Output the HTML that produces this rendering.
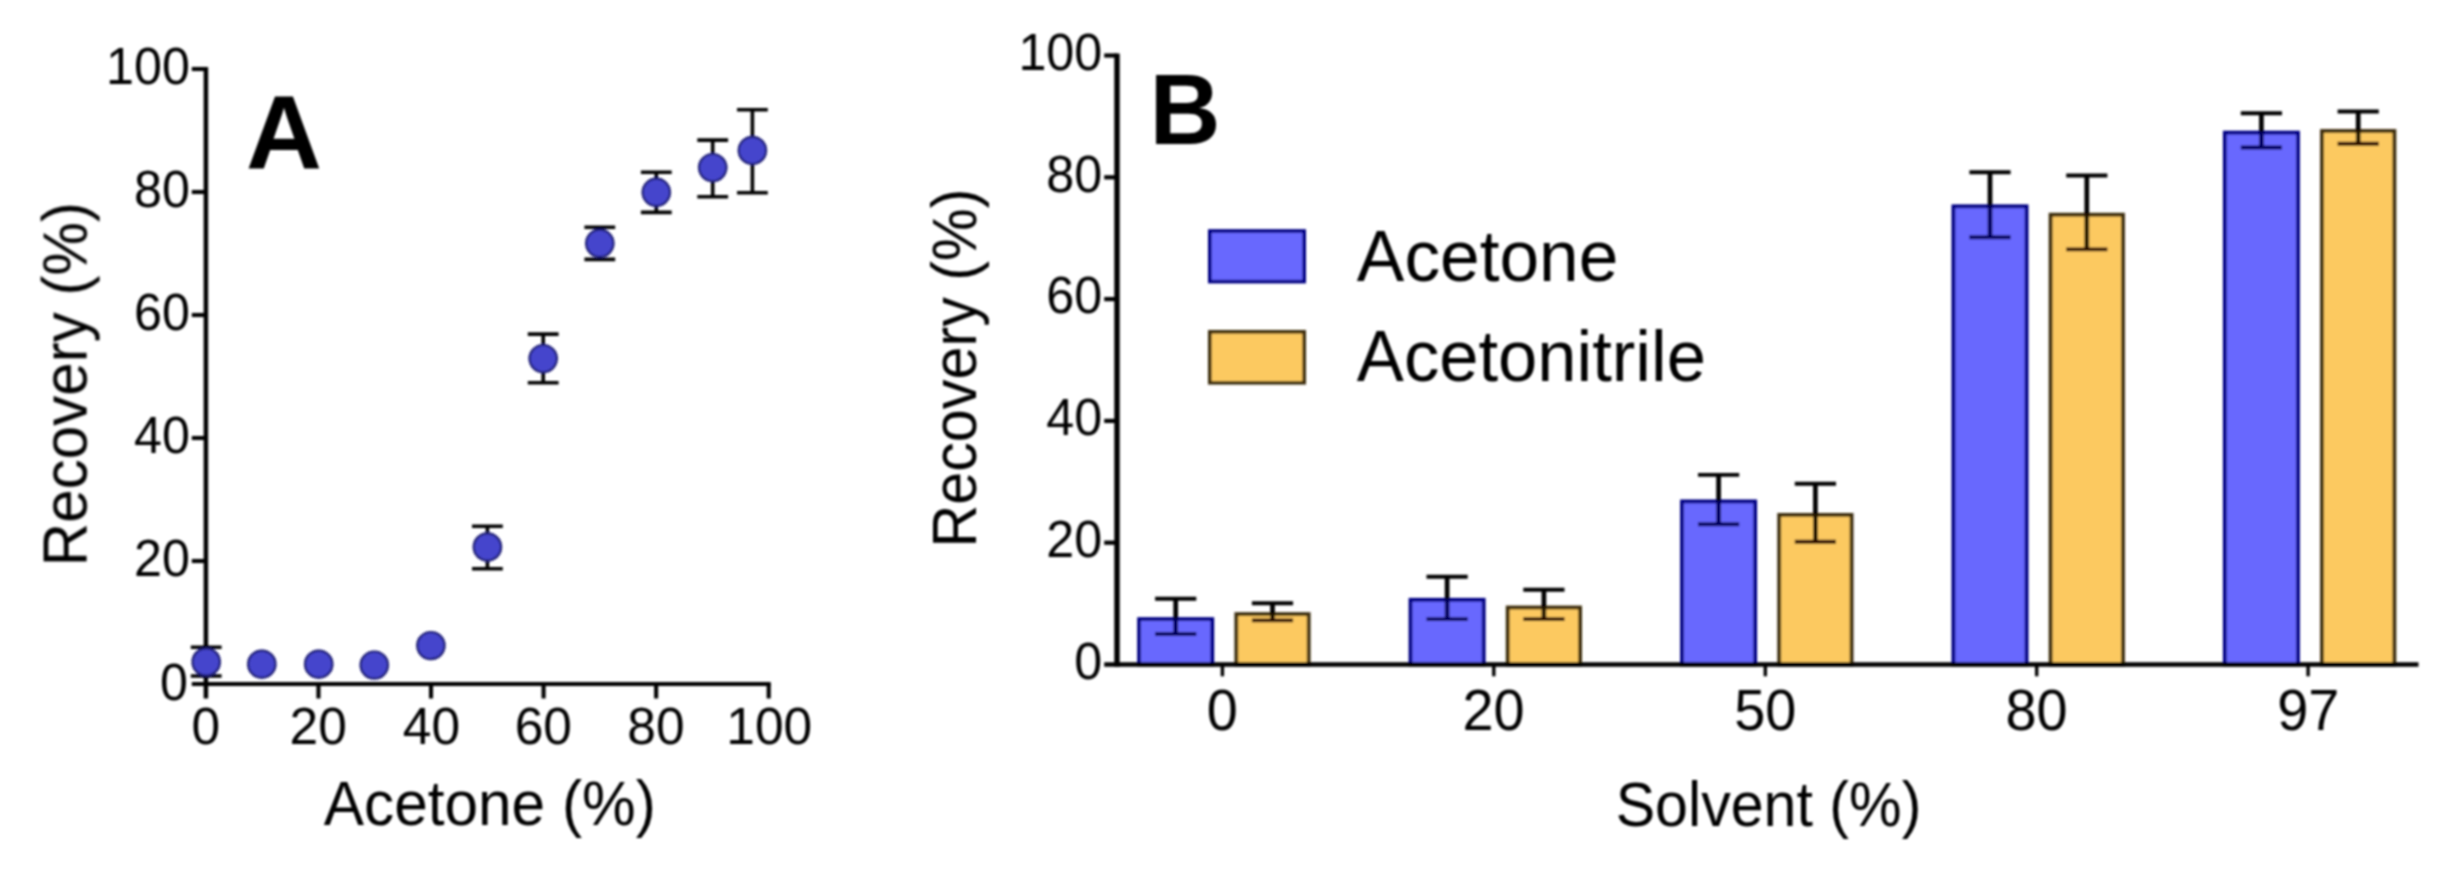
<!DOCTYPE html>
<html lang="en">
<head>
<meta charset="utf-8">
<title>Recovery vs solvent</title>
<style>
html,body{margin:0;padding:0;background:#fff;}
body{width:2452px;height:876px;overflow:hidden;}
svg{display:block;font-family:"Liberation Sans", Arial, Helvetica, sans-serif;font-kerning:none;}
text{fill:#000;}
</style>
</head>
<body>
<svg width="2452" height="876" viewBox="0 0 2452 876">
<defs><filter id="soft" x="0" y="0" width="2452" height="876" filterUnits="userSpaceOnUse"><feGaussianBlur stdDeviation="0.8"/></filter></defs>
<rect x="0" y="0" width="2452" height="876" fill="#fff"/>
<g filter="url(#soft)">
<line x1="205.9" y1="66.95" x2="205.9" y2="698.5" stroke="#000" stroke-width="4.5"/>
<line x1="191.8" y1="684.0" x2="770.75" y2="684.0" stroke="#000" stroke-width="4.1"/>
<g stroke="#000" stroke-width="4.1">
<line x1="191.8" y1="561.00" x2="205.9" y2="561.00"/>
<line x1="318.46" y1="684.0" x2="318.46" y2="698.5"/>
<line x1="191.8" y1="438.00" x2="205.9" y2="438.00"/>
<line x1="431.02" y1="684.0" x2="431.02" y2="698.5"/>
<line x1="191.8" y1="315.00" x2="205.9" y2="315.00"/>
<line x1="543.58" y1="684.0" x2="543.58" y2="698.5"/>
<line x1="191.8" y1="192.00" x2="205.9" y2="192.00"/>
<line x1="656.14" y1="684.0" x2="656.14" y2="698.5"/>
<line x1="191.8" y1="69.00" x2="205.9" y2="69.00"/>
<line x1="768.70" y1="684.0" x2="768.70" y2="698.5"/>
</g>
<text transform="translate(159.98 700.20) scale(0.9850 1)" font-size="51">0</text>
<text transform="translate(134.05 576.00) scale(0.9850 1)" font-size="51">20</text>
<text transform="translate(134.05 453.00) scale(0.9850 1)" font-size="51">40</text>
<text transform="translate(134.05 330.00) scale(0.9850 1)" font-size="51">60</text>
<text transform="translate(134.05 207.00) scale(0.9850 1)" font-size="51">80</text>
<text transform="translate(106.12 84.00) scale(0.9850 1)" font-size="51">100</text>
<text transform="translate(191.58 744.00) scale(1.0100 1)" font-size="51">0</text>
<text transform="translate(289.51 744.00) scale(1.0100 1)" font-size="51">20</text>
<text transform="translate(402.79 744.00) scale(1.0100 1)" font-size="51">40</text>
<text transform="translate(514.63 744.00) scale(1.0100 1)" font-size="51">60</text>
<text transform="translate(627.35 744.00) scale(1.0100 1)" font-size="51">80</text>
<text transform="translate(726.26 744.00) scale(1.0100 1)" font-size="51">100</text>
<text transform="translate(323.78 824.60) scale(0.9579 1)" font-size="63">Acetone (%)</text>
<text transform="translate(86.60 566.33) rotate(-90) scale(0.9550 1)" font-size="63">Recovery (%)</text>
<text transform="translate(246.06 168.40) scale(1.0216 1)" font-size="103" font-weight="bold">A</text>
<g stroke="#000" stroke-width="3.6" fill="none">
<path d="M190.8 647.2H221.6M190.8 676.0H221.6M206.2 647.2V676.0"/>
<path d="M472.0 526.2H502.8M472.0 568.8H502.8M487.4 526.2V568.8"/>
<path d="M527.8 334.1H558.6M527.8 382.7H558.6M543.2 334.1V382.7"/>
<path d="M584.4 227.2H615.2M584.4 259.4H615.2M599.8 227.2V259.4"/>
<path d="M640.9 172.3H671.7M640.9 212.4H671.7M656.3 172.3V212.4"/>
<path d="M697.3 140.1H728.1M697.3 196.8H728.1M712.7 140.1V196.8"/>
<path d="M737.0 109.8H767.8M737.0 192.8H767.8M752.4 109.8V192.8"/>
</g>
<g fill="#4545cc" stroke="#1b1b72" stroke-width="2.2">
<ellipse cx="206.2" cy="662.0" rx="13.7" ry="13.6"/>
<ellipse cx="261.8" cy="664.2" rx="13.7" ry="13.6"/>
<ellipse cx="318.7" cy="664.2" rx="13.7" ry="13.6"/>
<ellipse cx="374.3" cy="665.1" rx="13.7" ry="13.6"/>
<ellipse cx="430.9" cy="645.6" rx="13.7" ry="13.6"/>
<ellipse cx="487.4" cy="547.0" rx="13.7" ry="13.6"/>
<ellipse cx="543.2" cy="358.6" rx="13.7" ry="13.6"/>
<ellipse cx="599.8" cy="243.3" rx="13.7" ry="13.6"/>
<ellipse cx="656.3" cy="192.3" rx="13.7" ry="13.6"/>
<ellipse cx="712.7" cy="167.6" rx="13.7" ry="13.6"/>
<ellipse cx="752.4" cy="150.4" rx="13.7" ry="13.6"/>
</g>
<line x1="1117.0" y1="53.40" x2="1117.0" y2="666.80" stroke="#000" stroke-width="5.4"/>
<g stroke="#000" stroke-width="4.2">
<line x1="1104.2" y1="542.70" x2="1117.0" y2="542.70"/>
<line x1="1104.2" y1="420.90" x2="1117.0" y2="420.90"/>
<line x1="1104.2" y1="299.10" x2="1117.0" y2="299.10"/>
<line x1="1104.2" y1="177.30" x2="1117.0" y2="177.30"/>
<line x1="1104.2" y1="55.50" x2="1117.0" y2="55.50"/>
</g>
<text transform="translate(1074.28 678.80) scale(0.9850 1)" font-size="51">0</text>
<text transform="translate(1046.35 557.00) scale(0.9850 1)" font-size="51">20</text>
<text transform="translate(1046.35 435.20) scale(0.9850 1)" font-size="51">40</text>
<text transform="translate(1046.35 313.40) scale(0.9850 1)" font-size="51">60</text>
<text transform="translate(1046.35 191.60) scale(0.9850 1)" font-size="51">80</text>
<text transform="translate(1018.42 69.80) scale(0.9850 1)" font-size="51">100</text>
<rect x="1139.1" y="619.1" width="73.2" height="45.4" fill="#6767fe" stroke="#060684" stroke-width="3.8"/>
<rect x="1236.3" y="614.1" width="72.4" height="50.4" fill="#fcc961" stroke="#3e2d10" stroke-width="3.8"/>
<rect x="1410.5" y="599.8" width="73.2" height="64.7" fill="#6767fe" stroke="#060684" stroke-width="3.8"/>
<rect x="1507.7" y="607.5" width="72.4" height="57.0" fill="#fcc961" stroke="#3e2d10" stroke-width="3.8"/>
<rect x="1682.0" y="501.4" width="73.2" height="163.1" fill="#6767fe" stroke="#060684" stroke-width="3.8"/>
<rect x="1779.2" y="514.9" width="72.4" height="149.6" fill="#fcc961" stroke="#3e2d10" stroke-width="3.8"/>
<rect x="1953.4" y="206.3" width="73.2" height="458.2" fill="#6767fe" stroke="#060684" stroke-width="3.8"/>
<rect x="2050.6" y="214.7" width="72.4" height="449.8" fill="#fcc961" stroke="#3e2d10" stroke-width="3.8"/>
<rect x="2224.8" y="132.6" width="73.2" height="531.9" fill="#6767fe" stroke="#060684" stroke-width="3.8"/>
<rect x="2322.0" y="131.0" width="72.4" height="533.5" fill="#fcc961" stroke="#3e2d10" stroke-width="3.8"/>
<line x1="1104.2" y1="664.5" x2="2418.5" y2="664.5" stroke="#000" stroke-width="4.6"/>
<g stroke="#000" stroke-width="3.4">
<line x1="1222.4" y1="664.5" x2="1222.4" y2="676.3"/>
<line x1="1493.8" y1="664.5" x2="1493.8" y2="676.3"/>
<line x1="1765.3" y1="664.5" x2="1765.3" y2="676.3"/>
<line x1="2036.7" y1="664.5" x2="2036.7" y2="676.3"/>
<line x1="2308.1" y1="664.5" x2="2308.1" y2="676.3"/>
</g>
<g fill="none">
<path stroke="#000" stroke-width="3.9" d="M1155.1 598.8H1196.3"/>
<path stroke="#000" stroke-width="4.7" d="M1175.7 598.8V618.7"/>
<path stroke="#04045f" stroke-width="4.7" d="M1175.7 618.7V634.0"/>
<path stroke="#04045f" stroke-width="3.9" d="M1155.1 634.0H1196.3"/>
<path stroke="#000" stroke-width="3.9" d="M1251.9 603.2H1293.1"/>
<path stroke="#000" stroke-width="4.7" d="M1272.5 603.2V613.7"/>
<path stroke="#241503" stroke-width="4.7" d="M1272.5 613.7V620.4"/>
<path stroke="#2e0a02" stroke-width="3.9" d="M1251.9 620.4H1293.1"/>
<path stroke="#000" stroke-width="3.9" d="M1426.5 576.8H1467.7"/>
<path stroke="#000" stroke-width="4.7" d="M1447.1 576.8V599.4"/>
<path stroke="#04045f" stroke-width="4.7" d="M1447.1 599.4V619.1"/>
<path stroke="#04045f" stroke-width="3.9" d="M1426.5 619.1H1467.7"/>
<path stroke="#000" stroke-width="3.9" d="M1523.3 589.7H1564.5"/>
<path stroke="#000" stroke-width="4.7" d="M1543.9 589.7V607.1"/>
<path stroke="#241503" stroke-width="4.7" d="M1543.9 607.1V619.1"/>
<path stroke="#2e0a02" stroke-width="3.9" d="M1523.3 619.1H1564.5"/>
<path stroke="#000" stroke-width="3.9" d="M1698.0 474.9H1739.2"/>
<path stroke="#000" stroke-width="4.7" d="M1718.6 474.9V501.0"/>
<path stroke="#04045f" stroke-width="4.7" d="M1718.6 501.0V524.2"/>
<path stroke="#04045f" stroke-width="3.9" d="M1698.0 524.2H1739.2"/>
<path stroke="#000" stroke-width="3.9" d="M1794.8 483.8H1836.0"/>
<path stroke="#000" stroke-width="4.7" d="M1815.4 483.8V514.5"/>
<path stroke="#241503" stroke-width="4.7" d="M1815.4 514.5V541.7"/>
<path stroke="#2e0a02" stroke-width="3.9" d="M1794.8 541.7H1836.0"/>
<path stroke="#000" stroke-width="3.9" d="M1969.4 172.3H2010.6"/>
<path stroke="#000" stroke-width="4.7" d="M1990.0 172.3V205.9"/>
<path stroke="#04045f" stroke-width="4.7" d="M1990.0 205.9V237.3"/>
<path stroke="#04045f" stroke-width="3.9" d="M1969.4 237.3H2010.6"/>
<path stroke="#000" stroke-width="3.9" d="M2066.2 175.5H2107.4"/>
<path stroke="#000" stroke-width="4.7" d="M2086.8 175.5V214.3"/>
<path stroke="#241503" stroke-width="4.7" d="M2086.8 214.3V249.4"/>
<path stroke="#2e0a02" stroke-width="3.9" d="M2066.2 249.4H2107.4"/>
<path stroke="#000" stroke-width="3.9" d="M2240.8 113.3H2282.0"/>
<path stroke="#000" stroke-width="4.7" d="M2261.4 113.3V132.2"/>
<path stroke="#04045f" stroke-width="4.7" d="M2261.4 132.2V147.5"/>
<path stroke="#04045f" stroke-width="3.9" d="M2240.8 147.5H2282.0"/>
<path stroke="#000" stroke-width="3.9" d="M2337.6 111.5H2378.8"/>
<path stroke="#000" stroke-width="4.7" d="M2358.2 111.5V130.6"/>
<path stroke="#241503" stroke-width="4.7" d="M2358.2 130.6V143.8"/>
<path stroke="#2e0a02" stroke-width="3.9" d="M2337.6 143.8H2378.8"/>
</g>
<text transform="translate(1206.87 729.60) scale(0.9800 1)" font-size="57">0</text>
<text transform="translate(1462.41 729.60) scale(0.9800 1)" font-size="57">20</text>
<text transform="translate(1734.19 729.60) scale(0.9800 1)" font-size="57">50</text>
<text transform="translate(2005.47 729.60) scale(0.9800 1)" font-size="57">80</text>
<text transform="translate(2277.15 729.60) scale(0.9800 1)" font-size="57">97</text>
<text transform="translate(1615.68 825.80) scale(0.9388 1)" font-size="63">Solvent (%)</text>
<text transform="translate(976.30 547.56) rotate(-90) scale(0.9413 1)" font-size="63">Recovery (%)</text>
<text transform="translate(1149.41 144.20) scale(0.9739 1)" font-size="101" font-weight="bold">B</text>
<rect x="1209.80" y="231.00" width="94.40" height="50.60" fill="#6767fe" stroke="#060684" stroke-width="3.6"/>
<rect x="1209.80" y="331.80" width="94.40" height="51.00" fill="#fcc961" stroke="#3e2d10" stroke-width="3.6"/>
<text transform="translate(1356.86 281.00) scale(0.9764 1)" font-size="73">Acetone</text>
<text transform="translate(1356.86 381.00) scale(0.9667 1)" font-size="73">Acetonitrile</text>
</g>
</svg>
</body>
</html>
